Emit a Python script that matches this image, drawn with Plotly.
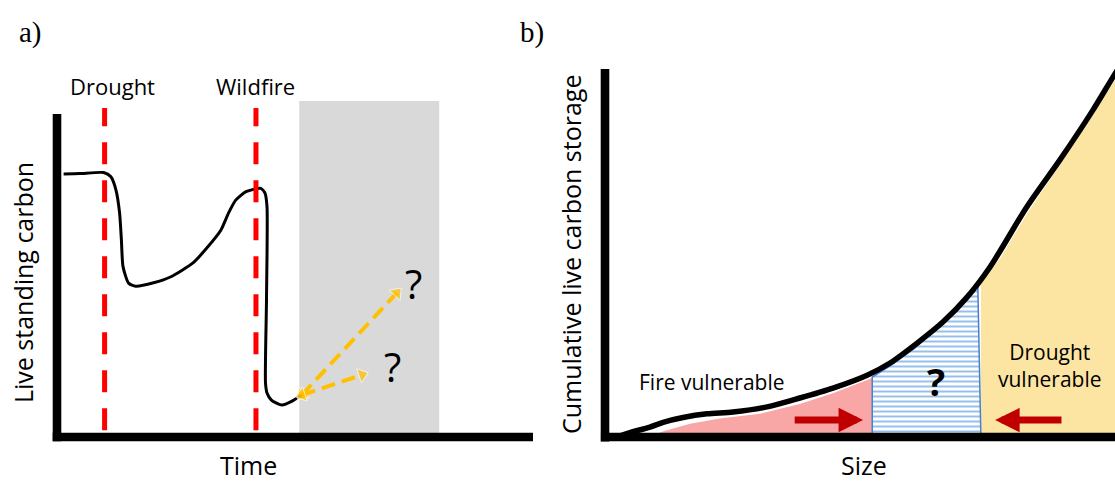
import plotly.graph_objects as go

# ---------------- Panel a: live standing carbon through time ----------------
time_a = [0.139, 0.483, 0.979, 1.128, 1.239, 1.315, 1.353, 1.387, 1.504, 1.653,
          2.029, 2.395, 2.857, 3.151, 3.445, 3.605, 3.754, 3.971, 4.279, 4.370,
          4.412, 4.401, 4.380, 4.412, 4.504, 4.727, 4.916, 5.143]
carbon_a = [0.783, 0.784, 0.787, 0.775, 0.735, 0.667, 0.586, 0.507, 0.458, 0.449,
            0.459, 0.477, 0.518, 0.563, 0.616, 0.667, 0.705, 0.730, 0.740, 0.726,
            0.685, 0.408, 0.161, 0.131, 0.110, 0.095, 0.105, 0.125]
event_names = ["Drought", "Wildfire"]
event_times = [1.0, 4.18]
event_label_times = [1.17, 4.17]
recovery_window = [5.09, 8.03]
arrow_high_t = [5.143, 7.14]
arrow_high_c = [0.125, 0.429]
arrow_low_t = [5.143, 6.41]
arrow_low_c = [0.125, 0.185]
question_t = [7.48, 7.04]
question_c = [0.458, 0.211]

# ---------------- Panel b: cumulative carbon storage by size ----------------
size_b = [0.0, 0.029, 0.049, 0.088, 0.114, 0.153, 0.200, 0.251, 0.318, 0.382,
          0.447, 0.514, 0.559, 0.612, 0.663, 0.710, 0.755, 0.827, 0.892, 0.957,
          0.996, 1.02]
storage_b = [0.0, 0.003, 0.012, 0.027, 0.040, 0.053, 0.063, 0.068, 0.082, 0.106,
             0.133, 0.168, 0.201, 0.255, 0.313, 0.380, 0.462, 0.625, 0.753, 0.889,
             0.978, 1.03]
fire_size = [0.082, 0.118, 0.167, 0.225, 0.304, 0.382, 0.451, 0.524]
fire_top = [0.0, 0.017, 0.036, 0.050, 0.063, 0.090, 0.121, 0.160]
unsure_size = [0.524, 0.524, 0.559, 0.608, 0.657, 0.696, 0.731, 0.737, 0.524]
unsure_top = [0.0, 0.163, 0.193, 0.242, 0.302, 0.359, 0.410, 0.0, 0.0]
drought_size = [0.737, 0.737, 0.775, 0.827, 0.892, 0.957, 1.0, 1.02]
drought_top = [0.0, 0.421, 0.486, 0.606, 0.739, 0.875, 0.970, 1.0]
shift_arrows = [(0.369, 0.506), (0.898, 0.765)]  # (tail, tip) sizes
shift_level = 0.046

FONT = "Open Sans"
fig = go.Figure()

# panel a
fig.add_trace(go.Scatter(x=time_a, y=carbon_a, mode="lines",
                         line=dict(color="black", width=3, shape="spline", smoothing=0.6),
                         xaxis="x", yaxis="y", hoverinfo="skip"))
for tt, cc in [(arrow_high_t, arrow_high_c), (arrow_low_t, arrow_low_c)]:
    fig.add_trace(go.Scatter(x=tt, y=cc, mode="lines+markers",
                             line=dict(color="#FFC000", width=4, dash="14px,7px"),
                             marker=dict(symbol="triangle-up", size=[0, 13], color="#FFC000",
                                         angleref="previous"),
                             xaxis="x", yaxis="y", hoverinfo="skip"))
    fig.add_trace(go.Scatter(x=tt[::-1], y=cc[::-1], mode="markers",
                             marker=dict(symbol="triangle-up", size=[0, 13], color="#FFC000",
                                         angleref="previous"),
                             xaxis="x", yaxis="y", hoverinfo="skip"))

# panel b fills
fig.add_trace(go.Scatter(x=fire_size, y=fire_top, mode="lines", fill="tozeroy",
                         line=dict(width=0), fillcolor="#F8A6A6",
                         xaxis="x2", yaxis="y2", hoverinfo="skip"))
fig.add_trace(go.Scatter(x=drought_size, y=drought_top, mode="lines", fill="tozeroy",
                         line=dict(width=0), fillcolor="#FCE4A3",
                         xaxis="x2", yaxis="y2", hoverinfo="skip"))
fig.add_trace(go.Scatter(x=unsure_size, y=unsure_top, mode="lines", fill="toself",
                         line=dict(color="#4A7FD0", width=1.5), fillcolor="white",
                         fillpattern=dict(shape="-", fgcolor="#2F7FD8", bgcolor="white",
                                          size=5, solidity=0.4),
                         xaxis="x2", yaxis="y2", hoverinfo="skip"))
fig.add_trace(go.Scatter(x=size_b, y=storage_b, mode="lines",
                         line=dict(color="black", width=5.5, shape="spline", smoothing=0.8),
                         xaxis="x2", yaxis="y2", hoverinfo="skip"))

shapes = []
# grey recovery window
shapes.append(dict(type="rect", xref="x", yref="y domain", x0=recovery_window[0],
                   x1=recovery_window[1], y0=0, y1=1, fillcolor="#D9D9D9",
                   line=dict(width=0), layer="below"))
for et in event_times:
    shapes.append(dict(type="line", xref="x", yref="y domain", x0=et, x1=et,
                       y0=0.02, y1=0.979, line=dict(color="#FF0000", width=5, dash="22px,16px"),
                       layer="above"))
# axis lines
axis_lines = [("x domain", "y domain", 0, 0, -0.013, 0.961),
              ("x domain", "y domain", -0.009, 1, 0, 0),
              ("x2 domain", "y2 domain", 0, 0, -0.012, 1),
              ("x2 domain", "y2 domain", -0.008, 1.01, 0, 0)]
for xr, yr, x0, x1, y0, y1 in axis_lines:
    shapes.append(dict(type="line", xref=xr, yref=yr, x0=x0, x1=x1, y0=y0, y1=y1,
                       line=dict(color="black", width=8.6), layer="above"))


def label(text, x, y, xref, yref, size, family=FONT, angle=0, yanchor="middle"):
    return dict(text=text, x=x, y=y, xref=xref, yref=yref, showarrow=False,
                xanchor="center", yanchor=yanchor, textangle=angle, borderpad=0,
                font=dict(family=family, size=size, color="black"))


annotations = []
for name, lt in zip(event_names, event_label_times):
    annotations.append(label(name, lt, 1.045, "x", "y domain", 22))
for qt, qc in zip(question_t, question_c):
    annotations.append(label("?", qt, qc, "x", "y", 40))
# shift arrows in b
for tail, tip in shift_arrows:
    annotations.append(dict(x=tip, y=shift_level, ax=tail, ay=shift_level,
                            xref="x2", yref="y2", axref="x2", ayref="y2", text="",
                            showarrow=True, arrowhead=2, arrowsize=0.7, arrowwidth=7,
                            arrowcolor="#C00000"))
annotations += [
    label("Fire vulnerable", 0.21, 0.149, "x2", "y2", 21),
    label("Drought<br>vulnerable", 0.873, 0.195, "x2", "y2", 21),
    label("<b>?</b>", 0.649, 0.152, "x2", "y2", 38),
    label("Live standing carbon", 0.0206, 0.416, "paper", "paper", 25, angle=-90),
    label("Time", 0.2233, 0.0, "paper", "paper", 25, yanchor="bottom"),
    label("Cumulative live carbon storage", 0.5121, 0.474, "paper", "paper", 25, angle=-90),
    label("Size", 0.775, 0.0, "paper", "paper", 25, yanchor="bottom"),
    label("a)", 0.0278, 0.9317, "paper", "paper", 29, family="Liberation Serif"),
    label("b)", 0.4771, 0.9317, "paper", "paper", 29, family="Liberation Serif"),
]

ax_common = dict(showgrid=False, zeroline=False, showticklabels=False, ticks="",
                 showline=False, fixedrange=True)
fig.update_layout(
    width=1115, height=483, margin=dict(l=0, r=0, t=0, b=0),
    paper_bgcolor="white", plot_bgcolor="white", showlegend=False,
    xaxis=dict(domain=[57 / 1115, 533 / 1115], range=[0, 10], **ax_common),
    yaxis=dict(domain=[46 / 483, 382 / 483], range=[0, 1], **ax_common),
    xaxis2=dict(domain=[605 / 1115, 1], range=[0, 1], anchor="y2", **ax_common),
    yaxis2=dict(domain=[46 / 483, 414 / 483], range=[0, 1], anchor="x2", **ax_common),
    shapes=shapes, annotations=annotations,
)
fig.write_html("out.html")
